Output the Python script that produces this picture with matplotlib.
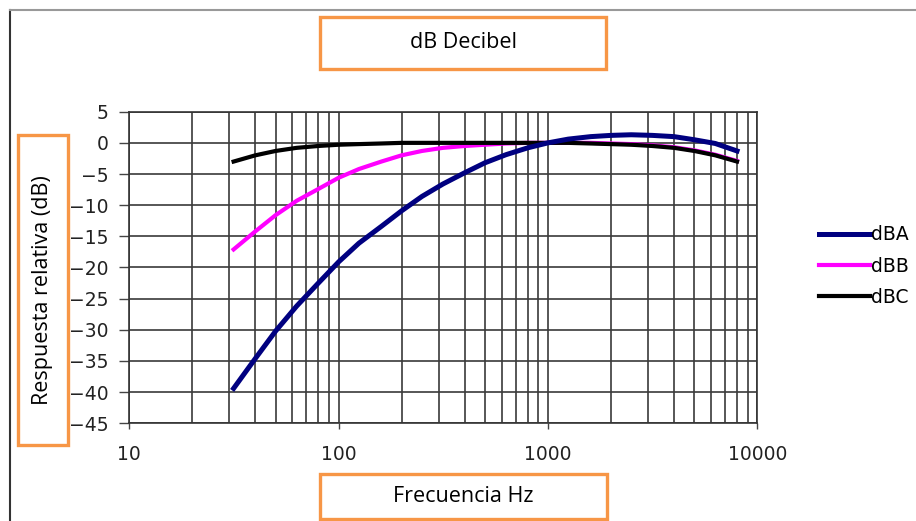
import matplotlib
matplotlib.use("Agg")
import matplotlib.pyplot as plt
import matplotlib.ticker
from matplotlib.patches import Rectangle
from matplotlib.lines import Line2D

# A, B and C weighting curves (third-octave bands)
freqs = [31.5, 40, 50, 63, 80, 100, 125, 160, 200, 250, 315, 400, 500, 630, 800,
         1000, 1250, 1600, 2000, 2500, 3150, 4000, 5000, 6300, 8000]
dba = [-39.4, -34.6, -30.2, -26.2, -22.5, -19.1, -16.1, -13.4, -10.9, -8.6, -6.6, -4.8, -3.2, -1.9, -0.8,
       0.0, 0.6, 1.0, 1.2, 1.3, 1.2, 1.0, 0.5, -0.1, -1.3]
dbb = [-17.1, -14.2, -11.6, -9.3, -7.4, -5.6, -4.2, -3.0, -2.0, -1.3, -0.8, -0.5, -0.3, -0.1, 0.0,
       0.0, 0.0, 0.0, -0.1, -0.2, -0.4, -0.7, -1.2, -1.9, -2.9]
dbc = [-3.0, -2.0, -1.3, -0.8, -0.5, -0.3, -0.2, -0.1, 0.0, 0.0, 0.0, 0.0, 0.0, 0.0, 0.0,
       0.0, 0.0, -0.1, -0.2, -0.3, -0.5, -0.8, -1.3, -2.0, -3.0]
yticks = list(range(-45, 10, 5))
xticks = [10, 100, 1000, 10000]
xtick_labels = ["10", "100", "1000", "10000"]

W, H = 916, 521
ORANGE = "#F79646"


def fx(px):
    return px / W


def fy(py):
    return 1 - py / H


fig = plt.figure(figsize=(W / 100, H / 100), dpi=100)
fig.patch.set_facecolor("white")

# outer chart border (only left and top edges are visible)
fig.add_artist(Line2D([fx(10), fx(10)], [fy(10), 0], color="#333333", lw=1.5))
fig.add_artist(Line2D([fx(10), 1], [fy(10), fy(10)], color="#999999", lw=1.5))

ax = fig.add_axes([fx(129.3), fy(423.3), fx(757.3) - fx(129.3), fy(111.7) - fy(423.3)])
ax.plot(freqs, dbb, color="#FF00FF", lw=3.0, label="dBB", zorder=3)
ax.plot(freqs, dbc, color="black", lw=3.0, label="dBC", zorder=4)
ax.plot(freqs, dba, color="#000080", lw=3.6, label="dBA", zorder=5)

ax.set_xscale("log")
ax.set_xlim(10, 10000)
ax.set_ylim(-45, 5)
ax.set_yticks(yticks)
ax.set_xticks(xticks)
ax.set_xticklabels(xtick_labels)
ax.xaxis.set_minor_locator(matplotlib.ticker.LogLocator(base=10, subs=range(2, 10)))
ax.xaxis.set_minor_formatter(matplotlib.ticker.NullFormatter())

ax.grid(which="both", axis="x", color="#3a3a3a", lw=1.2)
ax.grid(which="major", axis="y", color="#3a3a3a", lw=1.2)
ax.set_axisbelow(True)
for s in ax.spines.values():
    s.set_color("#333333")
    s.set_linewidth(1.2)

ax.tick_params(axis="y", which="major", length=7, width=1, color="#444444", pad=8,
               labelsize=13.5, labelcolor="#222222")
ax.tick_params(axis="x", which="major", length=4.5, width=1, color="#444444", pad=11,
               labelsize=13.5, labelcolor="#222222")
ax.tick_params(axis="x", which="minor", length=0)
for lab in ax.get_xticklabels() + ax.get_yticklabels():
    lab.set_family("DejaVu Sans")

handles, labels = ax.get_legend_handles_labels()
order = [2, 0, 1]
ax.legend([handles[i] for i in order], [labels[i] for i in order],
          loc="center left", bbox_to_anchor=(fx(802), fy(266)), bbox_transform=fig.transFigure,
          frameon=False, handlelength=2.7, handletextpad=0.1, labelspacing=0.65,
          prop={"family": "DejaVu Sans", "size": 13.5})

# orange text boxes
boxes = [
    ((320, 17, 606, 69), "dB Decibel", 0),
    ((18, 135, 68, 445), "Respuesta relativa (dB)", 90),
    ((320, 474, 607, 519), "Frecuencia Hz", 0),
]
for (x0, y0, x1, y1), text, rot in boxes:
    fig.add_artist(Rectangle((fx(x0), fy(y1)), fx(x1) - fx(x0), fy(y0) - fy(y1),
                             transform=fig.transFigure, fill=False, edgecolor=ORANGE, lw=2.4))
    cx = (x0 + x1) / 2
    cy = (y0 + y1) / 2
    if rot == 90:
        cy = 290
    fig.text(fx(cx), fy(cy), text, rotation=rot, ha="center", va="center",
             family="Open Sans", fontsize=15.5, color="black")

fig.savefig("out.png", dpi=100)
